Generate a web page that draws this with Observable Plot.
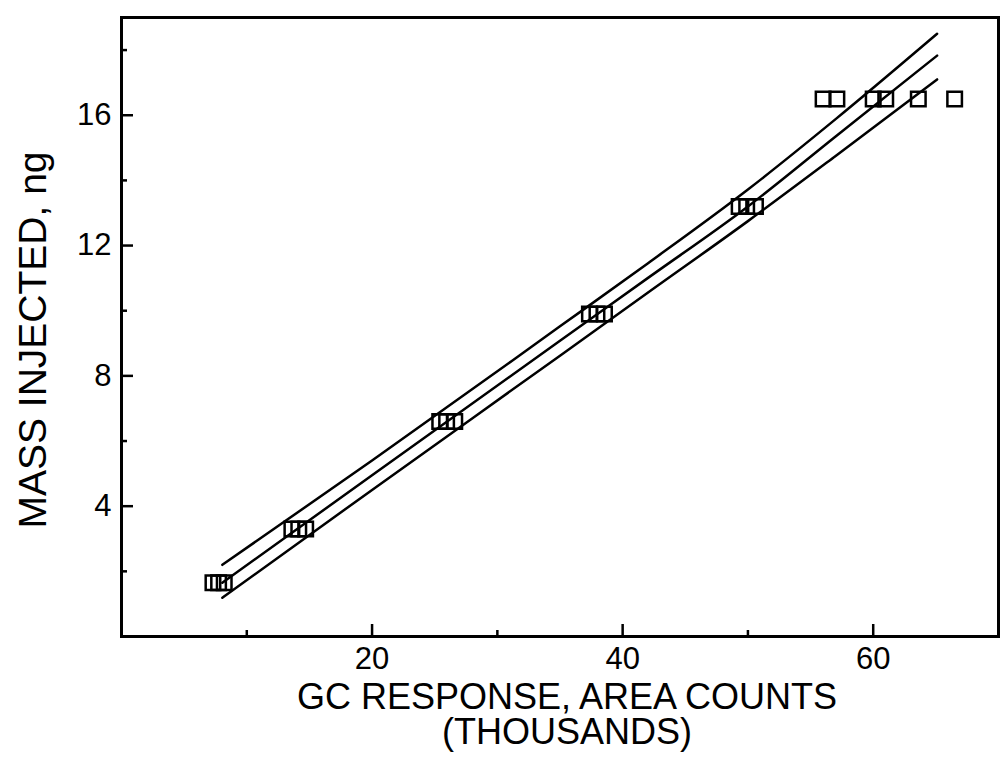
<!DOCTYPE html>
<html>
<head>
<meta charset="utf-8">
<script src="https://cdn.jsdelivr.net/npm/d3@7"></script>
<script src="https://cdn.jsdelivr.net/npm/@observablehq/plot@0.6"></script>
<style>
  html, body { margin: 0; padding: 0; background: #fff; }
  #chart { width: 1004px; height: 775px; }
</style>
</head>
<body>
<div id="chart"></div>
<script>
// Mass levels (ng) and the GC responses (thousands of area counts)
const massLevels = [1.65, 3.3, 6.6, 9.9, 13.2, 16.5];
const responses = [
  [7.3, 7.75, 8.2],
  [13.6, 14.15, 14.7],
  [25.4, 25.95, 26.6],
  [37.35, 37.95, 38.55],
  [49.3, 49.9, 50.6],
  [56.0, 57.1, 60.0, 61.0, 63.6, 66.5]
];

// Calibration curve and its confidence band
const fitX     = [8.05, 20, 35, 42, 50, 57, 65.1];
const fitMid   = [1.65, 4.95, 9.08, 11.0, 13.2, 15.35, 17.83];
const fitUpper = [2.20, 5.40, 9.52, 11.45, 13.72, 15.88, 18.50];
const fitLower = [1.19, 4.50, 8.62, 10.55, 12.75, 14.75, 17.10];

const xMajor = [20, 40, 60];
const xMinor = [10, 30, 50];
const yMajor = [4, 8, 12, 16];
const yMinor = [2, 6, 10, 14, 18];

const xLabel = "GC RESPONSE, AREA COUNTS\n(THOUSANDS)";
const yLabel = "MASS INJECTED, ng";

const points = massLevels.flatMap((m, i) => responses[i].map(r => ({x: r, y: m})));
const curves = [
  ...fitX.map((x, i) => ({x, y: fitUpper[i], band: "upper"})),
  ...fitX.map((x, i) => ({x, y: fitMid[i], band: "mid"})),
  ...fitX.map((x, i) => ({x, y: fitLower[i], band: "lower"}))
];

const chart = Plot.plot({
  width: 1004,
  height: 775,
  marginLeft: 121,
  marginRight: 6,
  marginTop: 17,
  marginBottom: 139,
  style: {fontFamily: "'Liberation Sans', Arial, sans-serif", background: "#fff", color: "#000"},
  x: {domain: [0, 70]},
  y: {domain: [0, 19]},
  marks: [
    Plot.frame({stroke: "#000", strokeWidth: 3}),
    Plot.axisX(xMajor, {tickSize: -12, fill: "none", stroke: "#000", strokeWidth: 2.5, label: null}),
    Plot.axisX(xMinor, {tickSize: -6, fill: "none", stroke: "#000", strokeWidth: 2.5, label: null}),
    Plot.axisX(xMajor, {tickSize: 0, tickPadding: 10, fontSize: 31, label: null}),
    Plot.axisY(yMajor, {tickSize: -12, fill: "none", stroke: "#000", strokeWidth: 2.5, label: null}),
    Plot.axisY(yMinor, {tickSize: -6, fill: "none", stroke: "#000", strokeWidth: 2.5, label: null}),
    Plot.axisY(yMajor, {tickSize: 0, tickPadding: 10, fontSize: 31, label: null}),
    Plot.line(curves, {x: "x", y: "y", z: "band", curve: "monotone-x", stroke: "#000", strokeWidth: 2.5}),
    Plot.dot(points, {x: "x", y: "y", symbol: "square", r: 8.2, stroke: "#000", strokeWidth: 2.5, fill: "none"}),
    Plot.text([yLabel], {text: d => d, frameAnchor: "left", textAnchor: "middle", rotate: -90, dx: -88, dy: 13, fontSize: 39}),
    Plot.text([xLabel], {text: d => d, frameAnchor: "bottom", textAnchor: "middle", lineAnchor: "top", dx: 7, dy: 48, fontSize: 36, lineHeight: 0.97})
  ]
});
document.getElementById("chart").append(chart);
</script>
</body>
</html>
